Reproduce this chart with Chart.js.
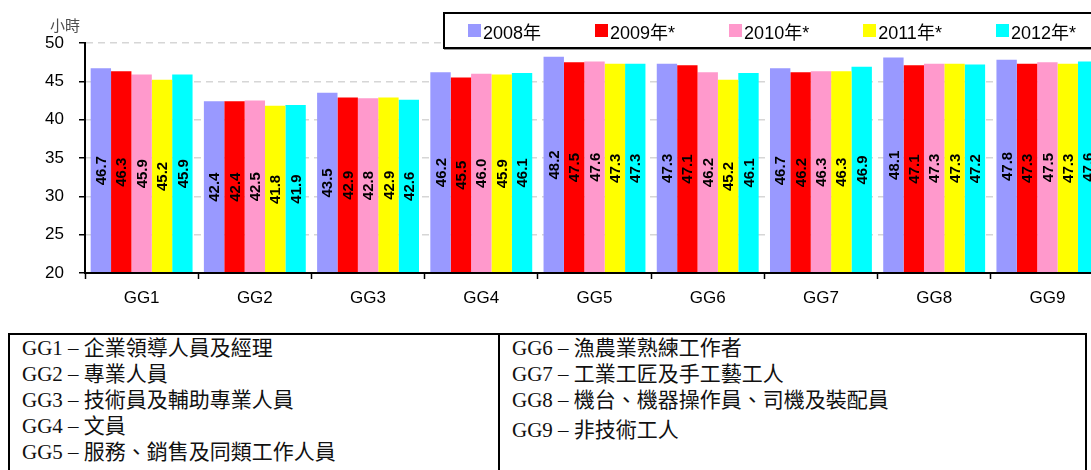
<!DOCTYPE html>
<html><head><meta charset="utf-8">
<script src="https://cdn.jsdelivr.net/npm/chart.js@4.4.1/dist/chart.umd.min.js"></script>
<style>
html,body{margin:0;padding:0;background:#fff;overflow:hidden;width:1091px;height:470px;}
#wrap{position:relative;width:1091px;height:470px;overflow:hidden;}
#c{position:absolute;left:0;top:0;}
#unit{position:absolute;left:50px;top:18px;font:15px "Liberation Sans","Noto Sans CJK TC",sans-serif;color:#4d4d4d;line-height:15px;}
#legend{position:absolute;left:443px;top:12px;width:700px;height:33px;border:2px solid #000;background:#fff;box-shadow:1px 1px 0 #999;display:flex;align-items:center;padding-left:23px;}
.li{display:flex;align-items:center;margin-right:54px;font:18px "Liberation Sans",Arial,"Noto Sans CJK TC",sans-serif;color:#000;white-space:nowrap;}
.sw{width:13px;height:13px;margin-right:2px;}
#tbl{position:absolute;left:8px;top:333px;width:1075px;height:160px;border:2px solid #000;background:#fff;}
#div{position:absolute;left:488px;top:0;width:2px;height:100%;background:#000;}
.col{position:absolute;top:0px;font:21px "Liberation Serif","Times New Roman","Noto Sans CJK TC",serif;color:#111;line-height:26px;white-space:nowrap;}
#colL{left:12px;}
#colR{left:502px;}
</style></head>
<body><div id="wrap">
<canvas id="c" width="1120" height="310"></canvas>
<div id="unit">小時</div>
<div id="legend"></div>
<div id="tbl"><div id="div"></div><div class="col" id="colL"></div><div class="col" id="colR"></div></div>
</div>
<script>
const categories = ['GG1','GG2','GG3','GG4','GG5','GG6','GG7','GG8','GG9'];
const seriesNames = ['2008年','2009年*','2010年*','2011年*','2012年*'];
const seriesColors = ['#9999FF','#FF0000','#FF99CC','#FFFF00','#00FFFF'];
const s2008 = [46.7,42.4,43.5,46.2,48.2,47.3,46.7,48.1,47.8];
const s2009 = [46.3,42.4,42.9,45.5,47.5,47.1,46.2,47.1,47.3];
const s2010 = [45.9,42.5,42.8,46.0,47.6,46.2,46.3,47.3,47.5];
const s2011 = [45.2,41.8,42.9,45.9,47.3,45.2,46.3,47.3,47.3];
const s2012 = [45.9,41.9,42.6,46.1,47.3,46.1,46.9,47.2,47.6];
const yMin = 20, yMax = 50, yStep = 5;
const unitLabel = '小時';
const groupNamesLeft = ['GG1 – 企業領導人員及經理','GG2 – 專業人員','GG3 – 技術員及輔助專業人員','GG4 – 文員','GG5 – 服務、銷售及同類工作人員'];
const groupNamesRight = ['GG6 – 漁農業熟練工作者','GG7 – 工業工匠及手工藝工人','GG8 – 機台、機器操作員、司機及裝配員','GG9 – 非技術工人'];

const seriesData = [s2008,s2009,s2010,s2011,s2012];

// legend
const lg = document.getElementById('legend');
seriesNames.forEach((n,i)=>{
  const it = document.createElement('div'); it.className='li';
  const sw = document.createElement('div'); sw.className='sw'; sw.style.background=seriesColors[i];
  const tx = document.createElement('span'); tx.textContent=n;
  it.appendChild(sw); it.appendChild(tx); lg.appendChild(it);
});
document.getElementById('unit').textContent = unitLabel;
const cl = document.getElementById('colL'), cr = document.getElementById('colR');
groupNamesLeft.forEach(t=>{const d=document.createElement('div');d.textContent=t;cl.appendChild(d);});
groupNamesRight.forEach((t,i)=>{const d=document.createElement('div');d.textContent=t;if(i===3)d.style.marginTop='4px';cr.appendChild(d);});

const barLabels = {
  id:'barLabels',
  afterDatasetsDraw(chart){
    const ctx = chart.ctx;
    const bottom = chart.chartArea.bottom;
    ctx.save();
    ctx.font = 'bold 15px "Liberation Sans", Arial, sans-serif';
    ctx.fillStyle = '#000';
    ctx.textAlign = 'center';
    ctx.textBaseline = 'middle';
    chart.data.datasets.forEach((ds,i)=>{
      const meta = chart.getDatasetMeta(i);
      meta.data.forEach((bar,j)=>{
        const v = ds.data[j];
        const cy = (bar.y + Math.min(bar.base, bottom))/2;
        ctx.save();
        ctx.translate(bar.x, cy);
        ctx.rotate(-Math.PI/2);
        ctx.fillText(v.toFixed(1), 0, 1);
        ctx.restore();
      });
    });
    ctx.restore();
  }
};

const fontFam = '"Liberation Sans", Arial, sans-serif';
new Chart(document.getElementById('c'), {
  type:'bar',
  data:{
    labels:categories,
    datasets: seriesData.map((d,i)=>({label:seriesNames[i], data:d, backgroundColor:seriesColors[i], borderWidth:0, categoryPercentage:0.9, barPercentage:1.0}))
  },
  options:{
    responsive:false, animation:false, devicePixelRatio:1,
    layout:{padding:{top:43,left:0,right:16,bottom:0}},
    plugins:{legend:{display:false}, tooltip:{enabled:false}},
    scales:{
      x:{
        grid:{display:true, drawOnChartArea:false, offset:true, tickLength:6, tickColor:'#000', tickWidth:1.5},
        border:{color:'#000', width:2, z:1},
        ticks:{color:'#000', font:{size:17, family:fontFam}, padding:9, maxRotation:0},
        afterFit(s){ s.height = 37; }
      },
      y:{
        min:yMin, max:yMax,
        ticks:{stepSize:yStep, color:'#000', font:{size:17, family:fontFam}, padding:15},
        grid:{color:(c)=> (c.tick && c.tick.value===yMin) ? 'rgba(0,0,0,0)' : '#d6d6d6', lineWidth:1.5, tickColor:'#000', tickLength:6, tickWidth:1.5, tickBorderDash:[]},
        border:{color:'#000', width:2, dash:[7,5], z:1},
        afterFit(s){ s.width = 85; }
      }
    }
  },
  plugins:[barLabels]
});
</script>
</body></html>
